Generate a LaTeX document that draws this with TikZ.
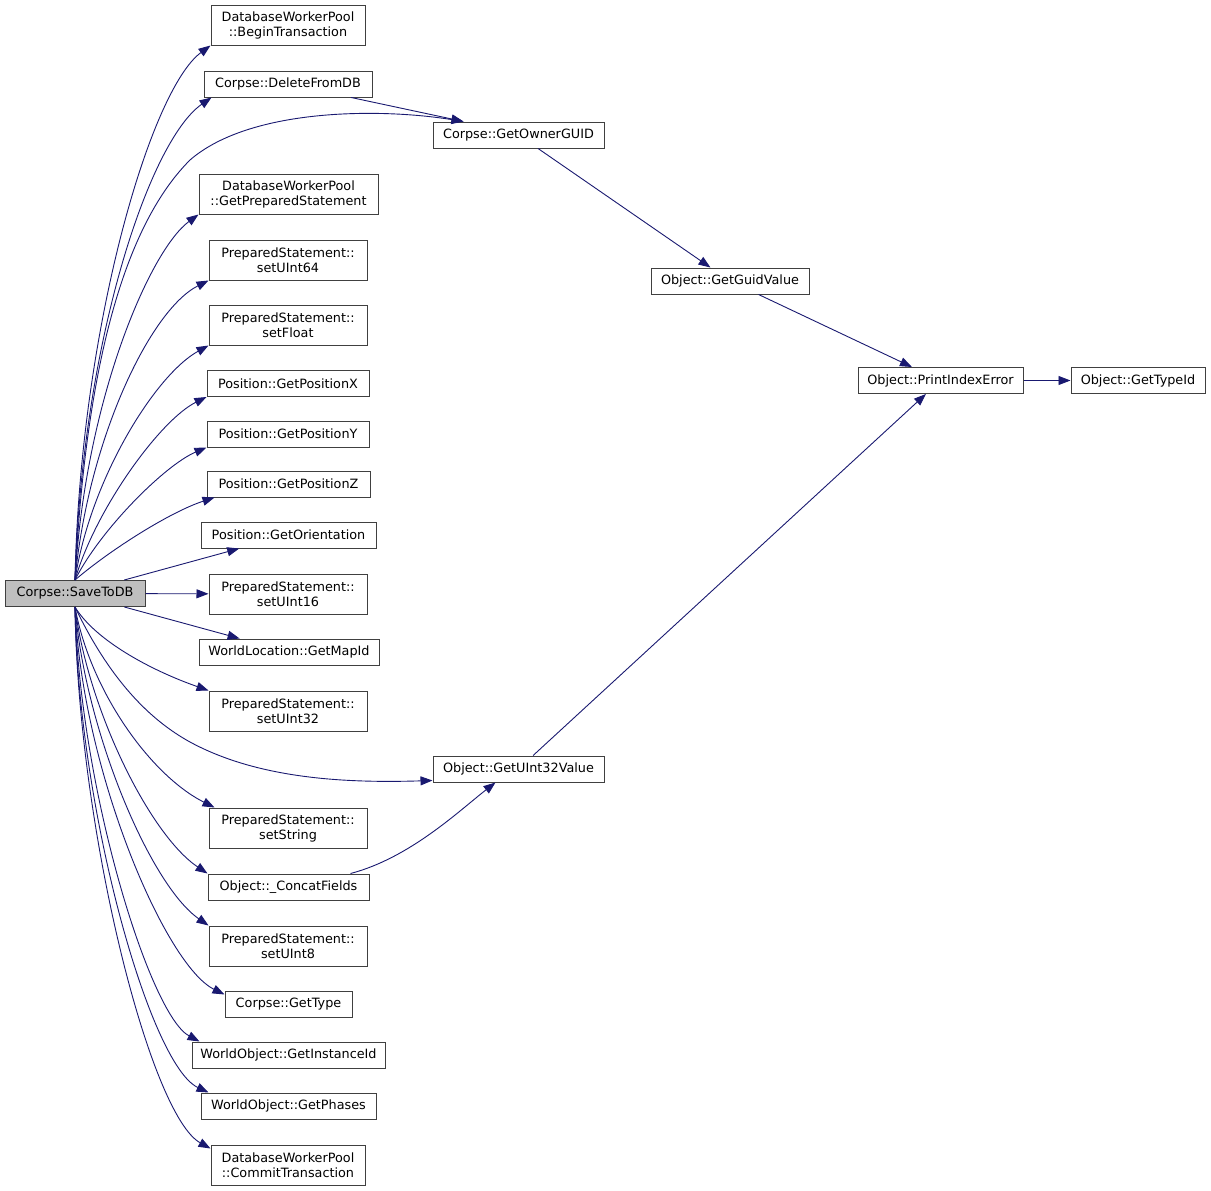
\documentclass[tikz,border=0pt]{standalone}
\usepackage{fontspec}
\setmainfont{DejaVu Sans}
\usetikzlibrary{arrows.meta}
\definecolor{edgeblue}{HTML}{191970}
\definecolor{curfill}{HTML}{BFBFBF}
\definecolor{boxline}{HTML}{404040}
\tikzset{
    fn/.style={draw=boxline, line width=1pt, fill=white, minimum height=26pt, inner sep=2pt, align=center, font=\fontsize{12.8}{15}\selectfont},
    fntwo/.style={fn, minimum height=40pt},
    cur/.style={fn, fill=curfill},
    call/.style={draw=edgeblue, line width=0.9pt, -{Triangle[length=12pt,width=9pt]}}
}
\begin{document}
\begin{tikzpicture}[x=1pt,y=1pt]
        \useasboundingbox (0,0) rectangle (1211,-1191);

        \node[cur, minimum width=140pt] (sdb) at (75,-593.5) {Corpse::SaveToDB};
        \node[fntwo, minimum width=154pt] (bt) at (288,-25) {DatabaseWorkerPool\\::BeginTransaction};
        \node[fn, minimum width=168pt] (del) at (288,-84) {Corpse::DeleteFromDB};
        \node[fn, minimum width=171pt] (own) at (518.5,-135) {Corpse::GetOwnerGUID};
        \node[fntwo, minimum width=179pt] (gps) at (288.5,-194) {DatabaseWorkerPool\\::GetPreparedStatement};
        \node[fntwo, minimum width=158pt] (u64) at (288,-260) {PreparedStatement::\\setUInt64};
        \node[fntwo, minimum width=158pt] (flt) at (288,-325) {PreparedStatement::\\setFloat};
        \node[fn, minimum width=162pt] (posx) at (288,-383.5) {Position::GetPositionX};
        \node[fn, minimum width=162pt] (posy) at (288,-434) {Position::GetPositionY};
        \node[fn, minimum width=163pt] (posz) at (288.5,-484) {Position::GetPositionZ};
        \node[fn, minimum width=175pt] (ori) at (288.5,-535) {Position::GetOrientation};
        \node[fntwo, minimum width=158pt] (u16) at (288,-594) {PreparedStatement::\\setUInt16};
        \node[fn, minimum width=180pt] (map) at (289,-652) {WorldLocation::GetMapId};
        \node[fntwo, minimum width=158pt] (u32) at (288,-711) {PreparedStatement::\\setUInt32};
        \node[fn, minimum width=171pt] (uv) at (518.5,-769) {Object::GetUInt32Value};
        \node[fntwo, minimum width=158pt] (str) at (288,-828) {PreparedStatement::\\setString};
        \node[fn, minimum width=161pt] (cf) at (288.5,-887) {Object::\_ConcatFields};
        \node[fntwo, minimum width=158pt] (u8) at (288,-946) {PreparedStatement::\\setUInt8};
        \node[fn, minimum width=127pt] (typ) at (288.5,-1004) {Corpse::GetType};
        \node[fn, minimum width=193pt] (inst) at (288.5,-1055) {WorldObject::GetInstanceId};
        \node[fn, minimum width=175pt] (ph) at (288.5,-1106) {WorldObject::GetPhases};
        \node[fntwo, minimum width=154pt] (ct) at (288,-1165) {DatabaseWorkerPool\\::CommitTransaction};
        \node[fn, minimum width=158pt] (ggv) at (730,-281) {Object::GetGuidValue};
        \node[fn, minimum width=165pt] (pie) at (940.5,-380.5) {Object::PrintIndexError};
        \node[fn, minimum width=134pt] (tid) at (1138,-380.5) {Object::GetTypeId};

        \draw[call] (sdb.north) .. controls (80,-330) and (150,-90) .. (bt.south west);
        \draw[call] (sdb.north) .. controls (82,-340) and (150,-140) .. ([xshift=8pt]del.south west);
        \draw[call] (sdb.north) .. controls (85,-380) and (120,-230) .. (190,-160) .. controls (250,-108) and (380,-108) .. ([xshift=-55pt]own.north);
        \draw[call] (sdb.north) .. controls (85,-400) and (150,-250) .. (gps.south west);
        \draw[call] (sdb.north) .. controls (88,-440) and (150,-310) .. (u64.south west);
        \draw[call] (sdb.north) .. controls (90,-480) and (155,-375) .. (flt.south west);
        \draw[call] (sdb.north) .. controls (95,-510) and (160,-420) .. (posx.south west);
        \draw[call] (sdb.north) .. controls (100,-530) and (165,-465) .. (posy.south west);
        \draw[call] (sdb.north) .. controls (110,-550) and (170,-512) .. ([xshift=8pt]posz.south west);
        \draw[call] (sdb) -- (ori);
        \draw[call] (sdb) -- (u16);
        \draw[call] (sdb) -- (map);
        \draw[call] (sdb.south) .. controls (95,-640) and (150,-670) .. (u32.north west);
        \draw[call] (sdb.south) .. controls (110,-680) and (150,-720) .. (190,-742) .. controls (260,-780) and (350,-783) .. ([yshift=2pt]uv.south west);
        \draw[call] (sdb.south) .. controls (90,-690) and (150,-775) .. ([xshift=6pt]str.north west);
        \draw[call] (sdb.south) .. controls (88,-710) and (150,-835) .. (cf.north west);
        \draw[call] (sdb.south) .. controls (85,-730) and (150,-885) .. (u8.north west);
        \draw[call] (sdb.south) .. controls (82,-770) and (165,-965) .. ([yshift=-4pt]typ.north west);
        \draw[call] (sdb.south) .. controls (80,-790) and (150,-1015) .. ([xshift=8pt]inst.north west);
        \draw[call] (sdb.south) .. controls (78,-810) and (150,-1065) .. ([xshift=8pt]ph.north west);
        \draw[call] (sdb.south) .. controls (78,-830) and (150,-1115) .. ([yshift=-4pt]ct.north west);

        \draw[call] (del) -- ([xshift=-55pt]own.north);
        \draw[call] (own) -- (ggv);
        \draw[call] (ggv) -- (pie);
        \draw[call] (uv) -- (pie);
        \draw[call] ([xshift=62pt]cf.north) .. controls (410,-858) and (460,-810) .. ([xshift=-23pt]uv.south);
        \draw[call] (pie) -- (tid);
\end{tikzpicture}
\end{document}
